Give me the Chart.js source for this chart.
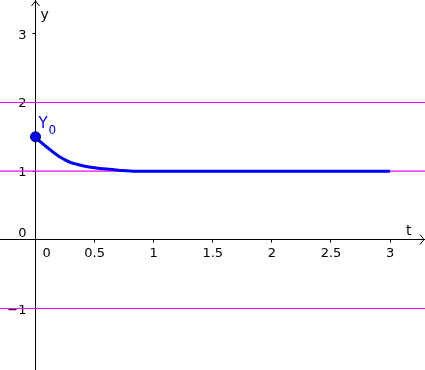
<!DOCTYPE html>
<html>
<head>
<meta charset="utf-8">
<script src="https://cdn.jsdelivr.net/npm/chart.js@4.4.0/dist/chart.umd.min.js"></script>
<style>
  html, body { margin: 0; padding: 0; background: #fff; }
  canvas { display: block; }
</style>
</head>
<body>
<canvas id="myChart" width="425" height="370"></canvas>
<script>
// valores
const tValues = [0, 0.025, 0.05, 0.075, 0.1, 0.125, 0.15, 0.2, 0.25, 0.3, 0.35, 0.4, 0.5, 0.6, 0.7, 0.85, 1, 1.5, 2, 2.5, 3];
const yValues = [1.5, 1.455, 1.415, 1.38, 1.345, 1.31, 1.275, 1.215, 1.165, 1.125, 1.1, 1.078, 1.05, 1.03, 1.015, 1.0, 1.0, 1.0, 1.0, 1.0, 1.0];
const lineasMagenta = [2, 1, -1];
const xTicks = [0, 0.5, 1, 1.5, 2, 2.5, 3];
const yTicks = [3, 2, 1, 0, -1];
const puntoInicial = { t: 0, y: 1.5, etiqueta: "Y", sub: "0" };

const xMin = -35.5 / 118.2, xMax = 389.5 / 118.2;
const yMin = -130.167 / 68.667, yMax = 239.833 / 68.667;

const fuente = '"DejaVu Sans", sans-serif';

// ejes, flechas y etiquetas
const ejesPlugin = {
    id: "ejes",
    beforeDatasetsDraw(chart) {
        const ctx = chart.ctx;
        const sx = chart.scales.x;
        const sy = chart.scales.y;
        const x0 = Math.round(sx.getPixelForValue(0) - 0.5) + 0.5;
        const y0 = Math.round(sy.getPixelForValue(0) - 0.5) + 0.5;
        const w = chart.width, h = chart.height;

        ctx.save();
        ctx.strokeStyle = "#000";
        ctx.lineWidth = 1;
        ctx.beginPath();
        ctx.moveTo(0, y0); ctx.lineTo(w, y0);
        ctx.moveTo(x0, 0); ctx.lineTo(x0, h);
        // flechas
        ctx.moveTo(w - 5, y0 - 5); ctx.lineTo(w - 1, y0); ctx.lineTo(w - 5, y0 + 5);
        ctx.moveTo(x0 - 4, 6); ctx.lineTo(x0, 1); ctx.lineTo(x0 + 4, 6);
        // marcas
        xTicks.forEach(v => {
            if (v === 0) return;
            const px = Math.round(sx.getPixelForValue(v) - 0.5) + 0.5;
            ctx.moveTo(px, y0); ctx.lineTo(px, y0 + 3);
        });
        yTicks.forEach(v => {
            if (v === 0) return;
            const py = Math.round(sy.getPixelForValue(v) - 0.5) + 0.5;
            ctx.moveTo(x0 - 3, py); ctx.lineTo(x0, py);
        });
        ctx.stroke();

        ctx.fillStyle = "#000";
        ctx.font = "13px " + fuente;
        ctx.textBaseline = "alphabetic";
        xTicks.forEach(v => {
            const px = sx.getPixelForValue(v);
            if (v === 0) {
                ctx.textAlign = "left";
                ctx.fillText("0", x0 + 7, y0 + 17);
            } else {
                ctx.textAlign = "center";
                ctx.fillText(String(v), px, y0 + 17);
            }
        });
        ctx.textAlign = "right";
        yTicks.forEach(v => {
            const py = sy.getPixelForValue(v);
            const txt = v < 0 ? "\u2212" + Math.abs(v) : String(v);
            if (v === 0) ctx.fillText(txt, x0 - 9, y0 - 3);
            else ctx.fillText(txt, x0 - 9, py + 5);
        });
        ctx.textAlign = "left";
        ctx.font = "14px " + fuente;
        ctx.fillText("y", x0 + 5, 19);
        ctx.fillText("t", w - 19, y0 - 5);
        ctx.restore();
    },
    afterDatasetsDraw(chart) {
        const ctx = chart.ctx;
        const px = chart.scales.x.getPixelForValue(puntoInicial.t);
        const py = chart.scales.y.getPixelForValue(puntoInicial.y);
        ctx.save();
        ctx.fillStyle = "#0000ff";
        ctx.textAlign = "left";
        ctx.textBaseline = "alphabetic";
        ctx.font = "15px " + fuente;
        ctx.fillText(puntoInicial.etiqueta, px + 3, py - 9);
        ctx.font = "12px " + fuente;
        ctx.fillText(puntoInicial.sub, px + 13, py - 3);
        ctx.restore();
    }
};

const datasets = [];
lineasMagenta.forEach(v => {
    datasets.push({
        data: [{ x: xMin, y: v }, { x: xMax, y: v }],
        borderColor: "#ff00ff",
        borderWidth: 1.2,
        pointRadius: 0,
        order: 3
    });
});
datasets.push({
    data: tValues.map((t, i) => ({ x: t, y: yValues[i] })),
    borderColor: "#0000ff",
    borderWidth: 3,
    pointRadius: 0,
    cubicInterpolationMode: "monotone",
    order: 2
});
datasets.push({
    data: [{ x: puntoInicial.t, y: puntoInicial.y }],
    showLine: false,
    pointRadius: 5,
    pointBackgroundColor: "#0000ff",
    pointBorderColor: "#000033",
    pointBorderWidth: 1,
    order: 1
});

const config = {
    type: "line",
    data: { datasets: datasets },
    options: {
        responsive: false,
        animation: false,
        devicePixelRatio: 1,
        layout: { padding: 0, autoPadding: false },
        plugins: { legend: { display: false }, tooltip: { enabled: false } },
        scales: {
            x: { type: "linear", min: xMin, max: xMax, display: false },
            y: { type: "linear", min: yMin, max: yMax, display: false }
        }
    },
    plugins: [ejesPlugin]
};

const myChart = new Chart(document.getElementById("myChart"), config);
</script>
</body>
</html>
